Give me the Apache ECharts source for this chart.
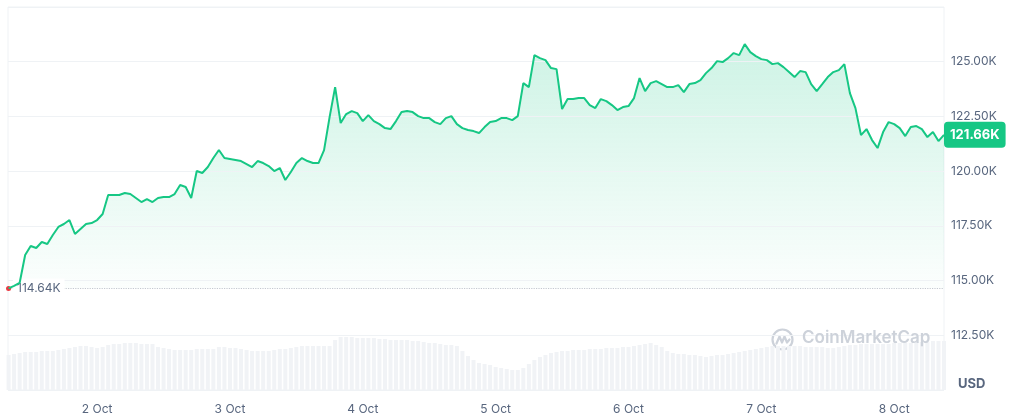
<!DOCTYPE html>
<html>
<head>
<meta charset="utf-8">
<script src="https://cdn.jsdelivr.net/npm/echarts@6/dist/echarts.min.js"></script>
<style>
html,body{margin:0;padding:0;background:#fff;}
#chart{width:1015px;height:415px;}
</style>
</head>
<body>
<div id="chart"></div>
<script>
// Hourly samples, hours counted from 1 Oct 00:00 (first sample 1 Oct 08:00)
const startHour = 8;
const stepHours = 1;

// BTC price (USD), one value per hour
const prices = [
  114640,114754,114891,116169,116580,116489,116763,116672,117083,117448,
  117585,117767,117128,117357,117585,117630,117767,118041,118909,118909,
  118909,119000,118955,118772,118589,118726,118589,118772,118818,118818,
  118955,119366,119274,118772,120005,119913,120187,120598,120964,120598,
  120553,120507,120461,120324,120187,120461,120370,120233,120005,120142,
  119594,119959,120370,120598,120461,120370,120370,120964,122470,123840,
  122196,122607,122744,122653,122288,122562,122288,122151,121968,121923,
  122288,122699,122744,122699,122516,122425,122425,122242,122151,122425,
  122516,122151,121968,121877,121831,121740,122014,122242,122288,122425,
  122425,122333,122516,124023,123840,125301,125164,125073,124708,124662,
  122836,123292,123292,123338,123338,123018,122881,123292,123201,123018,
  122790,122927,122973,123338,124251,123658,124023,124114,123977,123840,
  123840,123932,123612,123977,124023,124160,124479,124708,125027,124982,
  125164,125393,125301,125804,125438,125256,125119,125073,124890,124936,
  124753,124525,124297,124571,124525,123977,123658,123977,124297,124525,
  124616,124890,123566,122881,121649,121923,121420,121055,121786,122242,
  122151,121968,121603,122014,122059,121923,121557,121786,121375,121660
];

// Relative trading volume per hour (arbitrary units)
const volumes = [
  35,36,37,38,38,38,39,39,39,40,
  41,42,43,44,44,43,42,43,45,46,
  46,47,47,47,46,46,46,43,42,41,
  40,40,40,40,41,41,41,41,43,43,
  42,42,41,40,39,39,39,39,40,41,
  41,42,43,44,44,44,44,44,44,50,
  53,53,53,52,52,52,52,51,51,50,
  50,50,50,49,49,48,47,47,46,45,
  45,44,39,34,30,27,26,25,23,22,
  21,20,20,22,26,30,33,35,37,38,
  39,39,40,40,40,41,41,41,42,42,
  42,43,43,44,45,46,47,45,43,39,
  37,36,36,35,35,34,33,34,35,35,
  36,37,38,39,40,41,42,43,44,44,
  44,44,44,44,43,43,43,43,42,42,
  43,44,45,45,46,46,46,46,46,46,
  47,47,47,47,48,48,48,49,49,49
];

// Day tick positions (hours since 1 Oct 00:00) and their labels
const dayTicks = [24, 48, 72, 96, 120, 144, 168];
const dayLabels = ['2 Oct','3 Oct','4 Oct','5 Oct','6 Oct','7 Oct','8 Oct'];

const lowPrice = 114640;
const lowLabel = '114.64K';
const lastPrice = 121660;
const lastLabel = '121.66K';
const currency = 'USD';

const hours = prices.map((_, i) => startHour + i * stepHours);
const priceData = prices.map((p, i) => [hours[i], p]);
const volumeData = volumes.map((v, i) => [hours[i], v]);

const GREEN = '#16c784';
const GRAY = '#58667e';
const FONT = 'Inter, "Noto Sans", sans-serif';

const chart = echarts.init(document.getElementById('chart'), null, {renderer: 'canvas'});
chart.setOption({
  animation: false,
  textStyle: {fontFamily: FONT},
  grid: {left: 8, right: 71, top: 7, bottom: 24, show: true, borderColor: '#eff2f5', borderWidth: 1},
  xAxis: {
    type: 'value', min: 7.9, max: 177,
    axisLine: {show: false}, axisTick: {show: false}, splitLine: {show: false},
    axisLabel: {
      customValues: dayTicks,
      formatter: v => dayLabels[dayTicks.indexOf(v)] || '',
      color: GRAY, fontSize: 12, margin: 13, fontFamily: FONT
    }
  },
  yAxis: [{
    type: 'value', position: 'right', min: 110000, max: 127500, interval: 2500, z: 3,
    axisLine: {show: false}, axisTick: {show: false},
    splitLine: {lineStyle: {color: '#eff2f5', width: 1}},
    axisLabel: {
      showMinLabel: false, showMaxLabel: false,
      formatter: v => (v / 1000).toFixed(2) + 'K',
      color: GRAY, fontSize: 12, margin: 7, fontFamily: FONT
    }
  }, {
    type: 'value', min: 0, max: 383, show: false
  }],
  graphic: [
    {type: 'text', left: 958, top: 378, z: 10,
     style: {text: currency, fill: GRAY, font: 'bold 13px ' + FONT}},
    {type: 'group', left: 770, top: 327, z: 10, children: [
      {type: 'circle', shape: {cx: 11, cy: 11, r: 10}, style: {fill: 'none', stroke: '#cdd2da', lineWidth: 2.2}},
      {type: 'polyline', shape: {points: [[5, 15], [8, 8], [10.5, 14], [13, 8], [15.5, 14], [18, 11]]},
       style: {fill: 'none', stroke: '#cdd2da', lineWidth: 2.2, lineJoin: 'round', lineCap: 'round'}}
    ]},
    {type: 'text', left: 802, top: 329, z: 10,
     style: {text: 'CoinMarketCap', fill: '#cdd2da', font: '600 17px ' + FONT}}
  ],
  series: [
    {
      type: 'bar', name: 'volume', yAxisIndex: 1, data: volumeData,
      barWidth: 4, itemStyle: {color: '#f1f3f6'}, z: 1, silent: true
    },
    {
      type: 'line', name: 'area', data: priceData, symbol: 'none', silent: true,
      lineStyle: {width: 0},
      areaStyle: {
        origin: lowPrice,
        color: new echarts.graphic.LinearGradient(0, 0, 0, 1, [
          {offset: 0, color: 'rgba(22,199,132,0.30)'},
          {offset: 1, color: 'rgba(22,199,132,0.02)'}
        ])
      },
      z: 1
    },
    {
      type: 'line', name: 'price', data: priceData, symbol: 'none', z: 5, clip: false,
      lineStyle: {color: GREEN, width: 2},
      markLine: {
        silent: true, symbol: ['none', 'none'],
        data: [
          {yAxis: lowPrice, lineStyle: {type: 'dotted', color: '#c4c8d0', width: 1.2}, label: {show: false}},
          {yAxis: lastPrice, lineStyle: {color: 'rgba(255,255,255,0)', width: 0},
           label: {show: true, position: 'end', distance: 0, formatter: lastLabel,
                   color: '#fff', fontWeight: 'bold', fontSize: 13, fontFamily: FONT,
                   backgroundColor: GREEN, borderRadius: 4, padding: [7, 6, 6, 6]}}
        ]
      },
      markPoint: {
        silent: true,
        data: [{coord: [hours[0], lowPrice]}],
        symbol: 'circle', symbolSize: 5,
        itemStyle: {color: '#ea3943'},
        label: {show: true, position: 'right', distance: 2, formatter: lowLabel,
                color: GRAY, fontSize: 12, fontFamily: FONT,
                backgroundColor: '#fff', padding: [4, 4, 4, 4]}
      }
    }
  ]
});
</script>
</body>
</html>
